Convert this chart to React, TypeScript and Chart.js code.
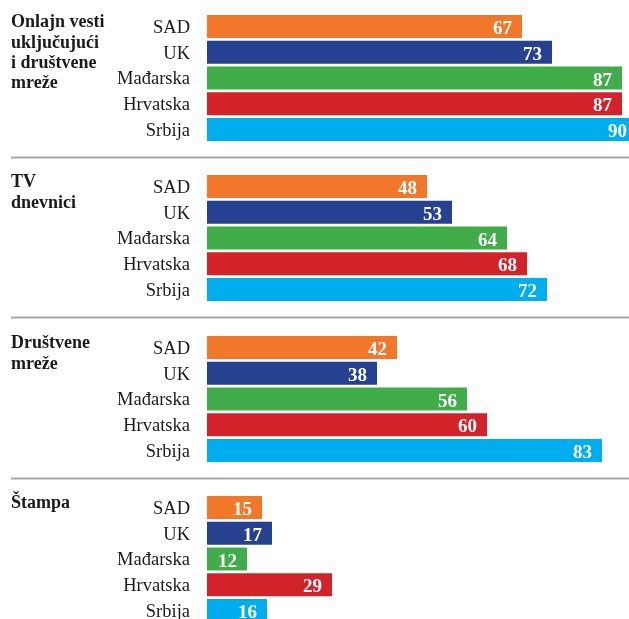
import React, { useEffect, useRef } from "react";
import { Chart, registerables } from "chart.js";

Chart.register(...registerables);

const countries = ["SAD", "UK", "Mađarska", "Hrvatska", "Srbija"];
const countryColors = ["#F1772A", "#26418F", "#41AD4A", "#D2232A", "#00AEEF"];

const groupTitles = [
  ["Onlajn vesti", "uključujući", "i društvene", "mreže"],
  ["TV", "dnevnici"],
  ["Društvene", "mreže"],
  ["Štampa"],
];

const onlineValues = [67, 73, 87, 87, 90];
const tvValues = [48, 53, 64, 68, 72];
const socialValues = [42, 38, 56, 60, 83];
const printValues = [15, 17, 12, 29, 16];

const groupValues = [onlineValues, tvValues, socialValues, printValues];

const axisMin = 4;
const axisMax = 88.4;

const SERIF = "'Liberation Serif', 'DejaVu Serif', serif";

const blockTops = [0, 160, 321, 481];
const blockHeights = [160, 161, 160, 161];

function GroupChart({ index }: { index: number }) {
  const ref = useRef<HTMLCanvasElement | null>(null);
  useEffect(() => {
    if (!ref.current) return;
    const h = blockHeights[index];
    const values = groupValues[index];
    const titleLines = groupTitles[index];
    const isLast = index === groupValues.length - 1;

    const overlay = {
      id: "overlay",
      afterDatasetsDraw(chart: any) {
        const ctx = chart.ctx;
        const area = chart.chartArea;
        const x = chart.scales.x;
        const y = chart.scales.y;
        ctx.save();
        // value labels
        ctx.fillStyle = "#ffffff";
        ctx.font = `bold 19px ${SERIF}`;
        ctx.textAlign = "right";
        ctx.textBaseline = "alphabetic";
        values.forEach((v, i) => {
          const px = x.getPixelForValue(v);
          const py = y.getPixelForValue(i);
          ctx.fillText(String(v), px - 10, py + 7.5);
        });
        // title
        ctx.fillStyle = "#1a1a1a";
        ctx.font = `bold 18px ${SERIF}`;
        ctx.textAlign = "left";
        const top = y.getPixelForValue(0) - 11.5;
        titleLines.forEach((line, i) => {
          ctx.fillText(line, 11, top + 12.5 + i * 20.3);
        });
        // separator
        if (!isLast) {
          ctx.strokeStyle = "#a8a8a8";
          ctx.lineWidth = 2;
          ctx.beginPath();
          ctx.moveTo(11, area.bottom + 15);
          ctx.lineTo(chart.width, area.bottom + 15);
          ctx.stroke();
        }
        ctx.restore();
      },
    };

    const chart = new Chart(ref.current, {
      type: "bar",
      data: {
        labels: countries,
        datasets: [
          {
            data: values,
            backgroundColor: countryColors,
            borderWidth: 0,
            barPercentage: 0.893,
            categoryPercentage: 1,
          },
        ],
      },
      options: {
        indexAxis: "y",
        animation: false,
        responsive: false,
        maintainAspectRatio: false,
        devicePixelRatio: 1,
        layout: { padding: { top: 13.6, bottom: h - 142.4, left: 0, right: 0 } },
        plugins: {
          legend: { display: false },
          tooltip: { enabled: false },
          title: { display: false },
        },
        scales: {
          x: {
            display: false,
            min: axisMin,
            max: axisMax,
          },
          y: {
            grid: { display: false, drawTicks: false },
            border: { display: false },
            ticks: {
              color: "#1a1a1a",
              font: { family: SERIF, size: 18.5 },
              padding: 17,
              labelOffset: 1.5,
            },
            afterFit(scale: any) {
              scale.width = 207;
              scale.paddingTop = 0;
              scale.paddingBottom = 0;
            },
          },
        },
      },
      plugins: [overlay],
    });
    return () => chart.destroy();
  }, [index]);

  return (
    <div
      style={{
        position: "absolute",
        left: 0,
        top: blockTops[index],
        width: 629,
        height: blockHeights[index],
      }}
    >
      <canvas ref={ref} width={629} height={blockHeights[index]} style={{ display: "block" }} />
    </div>
  );
}

export default function App() {
  useEffect(() => {
    document.body.style.margin = "0";
    document.body.style.background = "#ffffff";
  }, []);
  return (
    <div style={{ position: "relative", width: 629, height: 619, overflow: "hidden", background: "#fff" }}>
      {groupValues.map((_, i) => (
        <GroupChart key={i} index={i} />
      ))}
    </div>
  );
}
